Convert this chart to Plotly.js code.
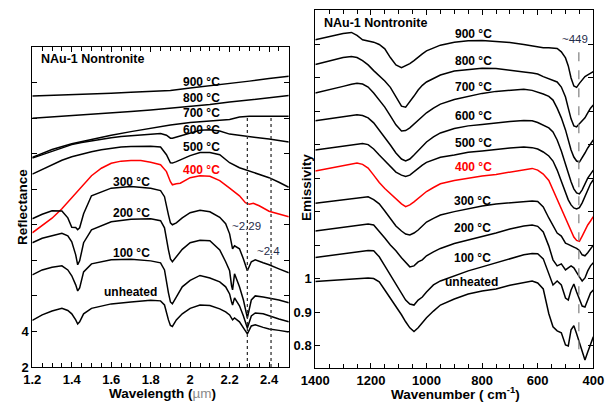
<!DOCTYPE html>
<html>
<head>
<meta charset="utf-8">
<script src="https://cdn.plot.ly/plotly-3.0.1.min.js"></script>
<style>html,body{margin:0;padding:0;background:#fff;}#chart{width:605px;height:402px;}</style>
</head>
<body>
<div id="chart"></div>
<script>
// ---------- Left panel: VNIR reflectance (offset) ----------
const wlHigh = [1.2,1.3,1.4,1.5,1.6,1.7,1.8,1.9,2.0,2.1,2.2,2.3,2.4,2.5];
const r900 = [17.24,17.27,17.31,17.35,17.40,17.45,17.48,17.55,17.69,17.81,17.94,18.08,18.23,18.35];
const r800 = [15.99,16.06,16.12,16.20,16.28,16.37,16.46,16.56,16.65,16.76,16.90,17.01,17.14,17.27];
const wl700 = [1.2,1.25,1.3,1.4,1.5,1.6,1.7,1.8,1.9,2.0,2.1,2.2,2.25,2.3,2.4,2.5];
const r700 = [13.79,14.0,14.23,14.56,14.82,15.04,15.24,15.44,15.61,15.75,15.83,15.92,16.06,16.11,16.11,16.11];
const wlMid = [1.2,1.25,1.3,1.35,1.4,1.45,1.5,1.55,1.6,1.65,1.7,1.75,1.8,1.85,1.88,1.9,1.91,1.93,1.95,2.0,2.05,2.1,2.15,2.2,2.25,2.28,2.3,2.32,2.35,2.4,2.45,2.5];
const r600 = [13.75,13.94,14.17,14.35,14.51,14.63,14.73,14.82,14.90,14.96,15.01,15.04,15.07,15.13,15.04,14.87,14.87,14.93,14.99,15.18,15.32,15.35,15.27,15.10,15.04,15.00,14.96,14.94,14.90,14.82,14.74,14.65];
const r500 = [12.85,13.10,13.38,13.63,13.83,13.98,14.11,14.22,14.31,14.37,14.41,14.42,14.42,14.37,13.94,13.49,13.47,13.55,13.66,13.89,14.06,14.07,13.94,13.49,13.21,13.10,13.04,12.97,12.87,12.65,12.39,12.11];
const r400 = [9.55,9.94,10.37,10.90,11.52,12.20,12.76,13.18,13.46,13.58,13.62,13.61,13.52,13.38,12.99,12.42,12.25,12.31,12.34,12.65,12.76,12.73,12.48,12.06,11.63,11.24,11.15,11.21,11.07,10.76,10.59,10.45];
const wlLow = [1.2,1.25,1.3,1.35,1.38,1.4,1.42,1.43,1.44,1.46,1.5,1.6,1.7,1.8,1.85,1.87,1.89,1.9,1.91,1.93,1.96,2.0,2.05,2.1,2.15,2.18,2.2,2.21,2.215,2.225,2.25,2.27,2.29,2.31,2.33,2.37,2.4,2.45,2.5];
const r300 = [10.34,10.59,10.79,10.78,10.39,9.86,9.85,9.72,9.83,10.62,11.63,12.06,12.16,12.06,11.92,11.58,10.56,10.11,10.00,10.11,10.39,10.68,10.82,10.73,10.42,10.06,9.49,8.93,8.65,8.82,8.65,8.08,7.41,7.92,8.03,7.86,7.75,7.52,7.30];
const r200 = [8.99,9.24,9.38,9.52,9.38,9.04,8.31,7.75,7.97,8.99,9.72,10.17,10.31,10.34,10.23,9.83,8.59,8.08,7.92,8.20,8.62,8.99,9.13,9.10,8.59,7.92,7.41,6.56,6.34,7.24,6.51,5.77,4.76,5.77,6.00,5.94,5.89,5.77,5.61];
const r100 = [7.18,7.46,7.61,7.69,7.46,7.13,6.62,6.28,6.45,7.35,7.80,8.03,8.06,7.97,7.86,7.46,6.17,5.66,5.55,5.94,6.51,6.87,7.15,7.01,6.79,6.51,6.11,5.66,5.49,5.89,5.44,4.87,4.20,4.87,5.04,4.99,4.87,4.70,4.54];
const rUnheated = [4.62,4.93,5.15,5.30,5.18,4.99,4.65,4.42,4.54,4.99,5.30,5.55,5.66,5.75,5.72,5.49,4.65,4.34,4.28,4.65,4.99,5.30,5.49,5.46,5.27,5.10,4.93,4.73,4.65,4.76,4.54,4.20,3.86,4.31,4.37,4.23,4.14,4.06,3.97];
const leftFeatures = [2.29, 2.41];
const leftYTicks = [2,4,6,8,10,12,14,16,18,20];
const leftYTickText = ['2','4',' ',' ',' ',' ',' ',' ',' ',' '];

// ---------- Right panel: TIR emissivity (offset) ----------
const wn = [1400,1350,1300,1270,1250,1230,1210,1190,1170,1150,1130,1110,1090,1075,1060,1045,1030,1015,1000,975,950,900,850,800,750,700,650,620,600,580,560,545,530,515,500,490,480,470,460,450,440,430,420,410,400];
const e900 = [1.714,1.724,1.733,1.736,1.727,1.714,1.711,1.707,1.700,1.687,1.661,1.639,1.631,1.636,1.643,1.652,1.663,1.672,1.681,1.690,1.698,1.707,1.711,1.712,1.710,1.706,1.700,1.696,1.693,1.690,1.690,1.689,1.688,1.678,1.660,1.636,1.600,1.576,1.572,1.584,1.595,1.604,1.609,1.615,1.619];
const e800 = [1.640,1.650,1.661,1.664,1.661,1.652,1.639,1.622,1.607,1.591,1.572,1.543,1.516,1.513,1.528,1.546,1.564,1.578,1.588,1.599,1.609,1.621,1.625,1.629,1.628,1.624,1.618,1.615,1.612,1.604,1.597,1.594,1.588,1.573,1.543,1.510,1.478,1.457,1.454,1.463,1.473,1.481,1.496,1.510,1.519];
const e700 = [1.555,1.564,1.575,1.581,1.584,1.582,1.573,1.555,1.534,1.513,1.487,1.460,1.442,1.443,1.451,1.463,1.475,1.485,1.496,1.510,1.522,1.536,1.546,1.554,1.560,1.564,1.566,1.563,1.558,1.552,1.545,1.534,1.510,1.481,1.445,1.415,1.385,1.364,1.352,1.349,1.361,1.376,1.391,1.403,1.415];
const e600 = [1.472,1.478,1.484,1.488,1.490,1.488,1.481,1.466,1.445,1.424,1.400,1.376,1.358,1.352,1.358,1.370,1.384,1.397,1.409,1.424,1.436,1.449,1.457,1.461,1.466,1.470,1.473,1.472,1.467,1.460,1.451,1.439,1.415,1.382,1.346,1.316,1.290,1.269,1.257,1.254,1.266,1.284,1.301,1.313,1.325];
const e500 = [1.385,1.391,1.397,1.400,1.403,1.404,1.401,1.388,1.370,1.352,1.334,1.319,1.310,1.306,1.310,1.321,1.331,1.340,1.348,1.355,1.363,1.370,1.378,1.382,1.387,1.391,1.394,1.392,1.388,1.379,1.367,1.352,1.325,1.290,1.257,1.236,1.221,1.212,1.209,1.213,1.227,1.245,1.266,1.284,1.296];
const e400 = [1.322,1.330,1.339,1.345,1.346,1.342,1.331,1.310,1.288,1.270,1.254,1.239,1.224,1.216,1.221,1.230,1.240,1.251,1.261,1.273,1.284,1.294,1.301,1.307,1.312,1.319,1.327,1.330,1.325,1.313,1.294,1.266,1.236,1.206,1.179,1.158,1.140,1.125,1.115,1.112,1.128,1.146,1.161,1.173,1.186];
const e300 = [1.226,1.231,1.237,1.240,1.243,1.245,1.245,1.237,1.224,1.203,1.179,1.158,1.143,1.134,1.131,1.137,1.146,1.158,1.170,1.181,1.191,1.201,1.210,1.218,1.224,1.228,1.231,1.233,1.231,1.215,1.182,1.158,1.137,1.128,1.107,1.103,1.098,1.095,1.091,1.085,1.072,1.069,1.078,1.090,1.101];
const e200 = [1.143,1.149,1.155,1.158,1.161,1.163,1.164,1.161,1.143,1.122,1.101,1.084,1.063,1.048,1.036,1.039,1.051,1.057,1.069,1.081,1.091,1.106,1.116,1.127,1.137,1.149,1.158,1.161,1.157,1.140,1.098,1.057,1.039,1.045,1.027,1.033,1.039,1.033,1.018,1.006,0.994,1.003,1.024,1.039,1.048];
const e100 = [1.064,1.070,1.076,1.079,1.082,1.084,1.085,1.084,1.066,1.039,1.012,0.988,0.958,0.937,0.925,0.922,0.937,0.946,0.961,0.982,0.994,1.009,1.024,1.036,1.048,1.061,1.072,1.076,1.075,1.060,1.018,0.982,0.994,0.982,0.943,0.937,0.967,0.985,0.961,0.937,0.919,0.916,0.937,0.958,0.967];
const eUnheated = [0.992,0.995,0.998,1.000,1.001,1.003,1.003,1.001,0.991,0.967,0.943,0.919,0.893,0.872,0.854,0.843,0.854,0.869,0.884,0.904,0.922,0.940,0.955,0.964,0.970,0.981,0.990,0.994,0.988,0.970,0.896,0.857,0.845,0.839,0.803,0.800,0.848,0.860,0.836,0.812,0.782,0.758,0.782,0.806,0.827];
const rightFeatures = [452];
const rightYTicks = [0.8,0.9,1.0,1.1,1.2,1.3,1.4,1.5,1.6,1.7];
const rightYTickText = ['0.8','0.9','1',' ',' ',' ',' ',' ',' ',' '];

const tempLabels = ['900 °C','800 °C','700 °C','600 °C','500 °C','400 °C','300 °C','200 °C','100 °C','unheated'];
const BLACK = '#000000', RED = '#ff0000';

function line(x, y, ax, color) {
  return {x:x, y:y, xaxis:ax[0], yaxis:ax[1], type:'scatter', mode:'lines',
          line:{color:color, width:1.5}, hoverinfo:'skip', showlegend:false};
}
const L = ['x','y'], R = ['x2','y2'];
const data = [
  line(wlHigh, r900, L, BLACK), line(wlHigh, r800, L, BLACK), line(wl700, r700, L, BLACK),
  line(wlMid, r600, L, BLACK), line(wlMid, r500, L, BLACK), line(wlMid, r400, L, RED),
  line(wlLow, r300, L, BLACK), line(wlLow, r200, L, BLACK), line(wlLow, r100, L, BLACK),
  line(wlLow, rUnheated, L, BLACK),
  line(wn, e900, R, BLACK), line(wn, e800, R, BLACK), line(wn, e700, R, BLACK),
  line(wn, e600, R, BLACK), line(wn, e500, R, BLACK), line(wn, e400, R, RED),
  line(wn, e300, R, BLACK), line(wn, e200, R, BLACK), line(wn, e100, R, BLACK),
  line(wn, eUnheated, R, BLACK)
];

const FONT = 'Liberation Sans, Arial, sans-serif';
const tickFont = {family:FONT, size:13, color:'#000', weight:'bold'};
const axisCommon = {showline:true, linecolor:'#000', linewidth:1, mirror:'ticks', ticks:'inside',
  ticklen:5, tickwidth:1, tickcolor:'#000', showgrid:false, zeroline:false, tickfont:tickFont, fixedrange:true};

function ann(text, xp, yp, color, opts) {
  return Object.assign({text:text, xref:'paper', yref:'paper', x:xp/605, y:1-yp/402,
    xanchor:'center', yanchor:'middle', showarrow:false,
    font:{family:FONT, size:12, color:color||'#000', weight:'bold'}}, opts||{});
}
const leftLabelY = [82, 98.3, 113.3, 130, 146.7, 170, 181.7, 213, 252.5, 291.7];
const leftLabelX = [201, 201, 201, 201, 201, 201, 131, 131, 131, 130];
const rightLabelY = [34, 60.5, 87.5, 116, 143, 167, 200.5, 228, 258, 281.5];
const rightLabelX = [473.5, 473.5, 473.5, 473.5, 473.5, 473.5, 472.5, 472.5, 472.5, 471.5];
const annotations = [];
tempLabels.forEach((t, i) => {
  const c = (i === 5) ? RED : '#000';
  annotations.push(ann(t, leftLabelX[i], leftLabelY[i], c));
  annotations.push(ann(t, rightLabelX[i], rightLabelY[i], c));
});
annotations.push(ann('NAu-1 Nontronite', 39, 59, '#000', {xanchor:'left', font:{family:FONT, size:12.5, color:'#000', weight:'bold'}}));
annotations.push(ann('NAu-1 Nontronite', 321.5, 23, '#000', {xanchor:'left', font:{family:FONT, size:12.5, color:'#000', weight:'bold'}}));
const noteFont = {family:FONT, size:11.5, color:'#1f2c4a', weight:'normal'};
annotations.push(ann('~2.29', 246, 226, null, {font:noteFont}));
annotations.push(ann('~2.4', 268, 251, null, {font:noteFont}));
annotations.push(ann('~449', 575, 39, null, {font:noteFont}));
const titleFont = {family:FONT, size:13.5, color:'#000', weight:'bold'};
annotations.push(ann('Reflectance', 22, 207, null, {textangle:-90, font:titleFont}));
annotations.push(ann('Emissivity', 306, 188, null, {textangle:-90, font:titleFont}));
annotations.push(ann('Wavelength (<span style="color:#8a8a8a;font-weight:normal">µm</span>)', 162, 393.5, null, {font:titleFont}));
annotations.push(ann('Wavenumber ( cm<sup>-1</sup>)', 455, 393, null, {font:titleFont}));

const shapes = [];
leftFeatures.forEach(v => shapes.push({type:'line', xref:'x', yref:'y', x0:v, x1:v, y0:2, y1:16.0,
  line:{color:'#333', width:1.3, dash:'dot'}}));
rightFeatures.forEach(v => shapes.push({type:'line', xref:'x2', yref:'y2', x0:v, x1:v, y0:0.79, y1:1.70,
  line:{color:'#888', width:1.3, dash:'dash'}}));

const layout = {
  width:605, height:402, margin:{l:0, r:0, t:0, b:0}, paper_bgcolor:'#fff', plot_bgcolor:'#fff',
  showlegend:false, font:{family:FONT, size:12, color:'#000'},
  xaxis: Object.assign({}, axisCommon, {domain:[32.3/605, 288.8/605], range:[1.2, 2.5], tickmode:'linear',
    tick0:1.2, dtick:0.2, anchor:'y', minor:{tick0:1.2, dtick:0.05, ticks:'inside', ticklen:4, tickcolor:'#000'}}),
  yaxis: Object.assign({}, axisCommon, {domain:[1-367/402, 1-47/402], range:[2, 20], tickmode:'array',
    tickvals:leftYTicks, ticktext:leftYTickText, anchor:'x'}),
  xaxis2: Object.assign({}, axisCommon, {domain:[315.3/605, 593.3/605], range:[1400, 400], tickmode:'linear',
    tick0:400, dtick:200, anchor:'y2', minor:{tick0:400, dtick:50, ticks:'inside', ticklen:4, tickcolor:'#000'}}),
  yaxis2: Object.assign({}, axisCommon, {domain:[1-368/402, 1-10/402], range:[0.734, 1.803], tickmode:'array',
    tickvals:rightYTicks, ticktext:rightYTickText, anchor:'x2'}),
  annotations: annotations,
  shapes: shapes
};
Plotly.newPlot('chart', data, layout, {staticPlot:true, displayModeBar:false});
</script>
</body>
</html>
